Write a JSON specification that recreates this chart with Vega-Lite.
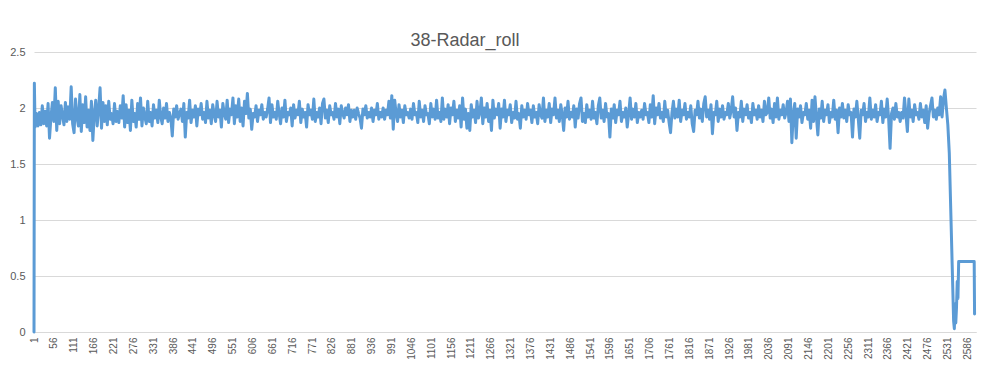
{
"$schema":"https://vega.github.io/schema/vega-lite/v6.json",
"autosize":{"type":"none"},
"padding":{"left":34,"top":52,"right":16,"bottom":45},
"width":942,"height":280,
"background":"#ffffff",
"title":{"text":"38-Radar_roll","font":"Liberation Sans","fontSize":18,"fontWeight":"normal","color":"#595959","anchor":"middle","frame":"group","dx":-40,"offset":-4},
"config":{"view":{"stroke":null}},
"data":{"values":[
{"i":1,"v":0},{"i":2,"v":2.22},
{"i":4,"v":1.83},{"i":8,"v":1.95},{"i":12,"v":1.84},{"i":16,"v":1.96},{"i":20,"v":1.85},{"i":24,"v":2.02},{"i":28,"v":1.86},{"i":32,"v":1.97},{"i":36,"v":1.84},{"i":40,"v":2.04},{"i":44,"v":1.73},{"i":48,"v":1.92},{"i":52,"v":2.05},{"i":56,"v":1.88},{"i":60,"v":2.18},{"i":64,"v":1.80},{"i":68,"v":2.06},{"i":72,"v":1.86},{"i":76,"v":2.02},{"i":80,"v":1.93},
{"i":84,"v":1.85},{"i":88,"v":2.05},{"i":92,"v":1.88},{"i":96,"v":2.01},{"i":100,"v":1.90},{"i":104,"v":2.19},{"i":108,"v":1.86},{"i":112,"v":1.78},{"i":116,"v":2.08},{"i":120,"v":1.92},{"i":124,"v":1.84},{"i":128,"v":2.12},{"i":132,"v":1.79},{"i":136,"v":2.03},{"i":140,"v":1.87},{"i":144,"v":2.10},{"i":148,"v":1.83},{"i":152,"v":1.98},{"i":156,"v":1.80},{"i":160,"v":2.06},
{"i":164,"v":1.71},{"i":168,"v":1.95},{"i":172,"v":2.07},{"i":176,"v":1.84},{"i":180,"v":1.99},{"i":184,"v":2.18},{"i":188,"v":1.82},{"i":192,"v":2.05},{"i":196,"v":1.88},{"i":200,"v":2.02},{"i":204,"v":1.85},{"i":208,"v":2.06},{"i":212,"v":1.90},{"i":216,"v":1.95},{"i":220,"v":1.86},{"i":224,"v":2.04},{"i":228,"v":1.88},{"i":232,"v":1.97},{"i":236,"v":1.87},{"i":240,"v":2.02},
{"i":244,"v":1.91},{"i":248,"v":2.11},{"i":252,"v":1.83},{"i":256,"v":2.03},{"i":260,"v":1.87},{"i":264,"v":1.98},{"i":268,"v":1.80},{"i":272,"v":2.07},{"i":276,"v":1.88},{"i":280,"v":1.95},{"i":284,"v":1.83},{"i":288,"v":2.04},{"i":292,"v":1.90},{"i":296,"v":2.09},{"i":300,"v":1.84},{"i":304,"v":2.00},{"i":308,"v":1.92},{"i":312,"v":1.86},{"i":316,"v":2.06},{"i":320,"v":1.88},
{"i":324,"v":1.96},{"i":328,"v":1.84},{"i":332,"v":2.03},{"i":336,"v":1.91},{"i":340,"v":1.98},{"i":344,"v":1.87},{"i":348,"v":2.07},{"i":352,"v":1.92},{"i":356,"v":1.86},{"i":360,"v":2.00},{"i":364,"v":1.91},{"i":368,"v":2.04},{"i":372,"v":1.88},{"i":376,"v":1.96},{"i":380,"v":1.91},{"i":384,"v":1.75},{"i":388,"v":1.99},{"i":392,"v":1.92},{"i":396,"v":2.02},{"i":400,"v":1.90},
{"i":404,"v":1.95},{"i":408,"v":1.99},{"i":412,"v":1.88},{"i":416,"v":2.04},{"i":420,"v":1.74},{"i":424,"v":1.96},{"i":428,"v":1.91},{"i":432,"v":2.07},{"i":436,"v":1.87},{"i":440,"v":1.98},{"i":444,"v":1.92},{"i":448,"v":2.02},{"i":452,"v":1.84},{"i":456,"v":1.99},{"i":460,"v":1.94},{"i":464,"v":2.04},{"i":468,"v":1.90},{"i":472,"v":1.96},{"i":476,"v":1.87},{"i":480,"v":2.06},
{"i":484,"v":1.91},{"i":488,"v":1.98},{"i":492,"v":1.86},{"i":496,"v":2.03},{"i":500,"v":1.94},{"i":504,"v":1.88},{"i":508,"v":2.06},{"i":512,"v":1.92},{"i":516,"v":1.98},{"i":520,"v":1.83},{"i":524,"v":2.04},{"i":528,"v":1.95},{"i":532,"v":1.90},{"i":536,"v":2.07},{"i":540,"v":1.87},{"i":544,"v":1.99},{"i":548,"v":1.94},{"i":552,"v":2.09},{"i":556,"v":1.86},{"i":560,"v":2.02},
{"i":564,"v":1.92},{"i":568,"v":2.08},{"i":572,"v":1.88},{"i":576,"v":2.00},{"i":580,"v":1.84},{"i":584,"v":2.06},{"i":588,"v":1.95},{"i":592,"v":2.13},{"i":596,"v":1.91},{"i":600,"v":1.99},{"i":604,"v":1.81},{"i":608,"v":1.95},{"i":612,"v":1.92},{"i":616,"v":2.02},{"i":620,"v":1.88},{"i":624,"v":1.98},{"i":628,"v":1.94},{"i":632,"v":2.03},{"i":636,"v":1.90},{"i":640,"v":1.96},
{"i":644,"v":1.92},{"i":648,"v":1.99},{"i":652,"v":2.09},{"i":656,"v":1.87},{"i":660,"v":2.03},{"i":664,"v":1.92},{"i":668,"v":1.96},{"i":672,"v":1.90},{"i":676,"v":2.06},{"i":680,"v":1.95},{"i":684,"v":1.86},{"i":688,"v":2.00},{"i":692,"v":1.92},{"i":696,"v":2.07},{"i":700,"v":1.88},{"i":704,"v":1.96},{"i":708,"v":1.94},{"i":712,"v":2.00},{"i":716,"v":1.84},{"i":720,"v":2.03},
{"i":724,"v":1.91},{"i":728,"v":1.98},{"i":732,"v":1.94},{"i":736,"v":2.06},{"i":740,"v":1.87},{"i":744,"v":1.99},{"i":748,"v":1.92},{"i":752,"v":1.96},{"i":756,"v":1.83},{"i":760,"v":2.03},{"i":764,"v":1.94},{"i":768,"v":1.98},{"i":772,"v":1.90},{"i":776,"v":2.08},{"i":780,"v":1.88},{"i":784,"v":1.96},{"i":788,"v":1.92},{"i":792,"v":2.00},{"i":796,"v":1.86},{"i":800,"v":2.04},
{"i":804,"v":2.08},{"i":808,"v":1.91},{"i":812,"v":1.98},{"i":816,"v":1.87},{"i":820,"v":2.02},{"i":824,"v":1.94},{"i":828,"v":1.96},{"i":832,"v":1.90},{"i":836,"v":2.04},{"i":840,"v":1.92},{"i":844,"v":1.99},{"i":848,"v":1.86},{"i":852,"v":2.02},{"i":856,"v":1.95},{"i":860,"v":1.91},{"i":864,"v":2.00},{"i":868,"v":1.94},{"i":872,"v":2.03},{"i":876,"v":1.88},{"i":880,"v":1.98},
{"i":884,"v":1.92},{"i":888,"v":1.98},{"i":892,"v":1.90},{"i":896,"v":2.00},{"i":900,"v":1.95},{"i":904,"v":1.91},{"i":908,"v":1.82},{"i":912,"v":1.99},{"i":916,"v":1.94},{"i":920,"v":2.02},{"i":924,"v":1.91},{"i":928,"v":1.96},{"i":932,"v":1.92},{"i":936,"v":2.00},{"i":940,"v":1.88},{"i":944,"v":1.98},{"i":948,"v":1.94},{"i":952,"v":2.04},{"i":956,"v":1.90},{"i":960,"v":1.96},
{"i":964,"v":1.92},{"i":968,"v":2.00},{"i":972,"v":1.90},{"i":976,"v":1.98},{"i":980,"v":1.94},{"i":984,"v":2.06},{"i":988,"v":1.91},{"i":992,"v":2.11},{"i":996,"v":1.81},{"i":1000,"v":2.07},{"i":1004,"v":1.95},{"i":1008,"v":1.88},{"i":1012,"v":2.03},{"i":1016,"v":1.92},{"i":1020,"v":1.98},{"i":1024,"v":1.87},{"i":1028,"v":2.02},{"i":1032,"v":1.94},{"i":1036,"v":1.96},{"i":1040,"v":1.91},
{"i":1044,"v":1.99},{"i":1048,"v":1.90},{"i":1052,"v":2.04},{"i":1056,"v":1.94},{"i":1060,"v":1.96},{"i":1064,"v":1.87},{"i":1068,"v":2.06},{"i":1072,"v":1.92},{"i":1076,"v":1.98},{"i":1080,"v":1.88},{"i":1084,"v":2.02},{"i":1088,"v":1.94},{"i":1092,"v":1.95},{"i":1096,"v":1.86},{"i":1100,"v":2.04},{"i":1104,"v":1.92},{"i":1108,"v":1.99},{"i":1112,"v":1.90},{"i":1116,"v":2.07},{"i":1120,"v":1.91},
{"i":1124,"v":1.96},{"i":1128,"v":1.88},{"i":1132,"v":2.09},{"i":1136,"v":1.90},{"i":1140,"v":1.99},{"i":1144,"v":1.92},{"i":1148,"v":2.03},{"i":1152,"v":1.86},{"i":1156,"v":2.00},{"i":1160,"v":1.94},{"i":1164,"v":2.06},{"i":1168,"v":1.88},{"i":1172,"v":1.98},{"i":1176,"v":1.91},{"i":1180,"v":2.02},{"i":1184,"v":1.83},{"i":1188,"v":2.09},{"i":1192,"v":1.90},{"i":1196,"v":1.99},{"i":1200,"v":1.82},
{"i":1204,"v":1.95},{"i":1208,"v":1.80},{"i":1212,"v":2.03},{"i":1216,"v":1.92},{"i":1220,"v":1.98},{"i":1224,"v":1.87},{"i":1228,"v":2.06},{"i":1232,"v":1.91},{"i":1236,"v":1.96},{"i":1240,"v":2.09},{"i":1244,"v":1.86},{"i":1248,"v":2.00},{"i":1252,"v":1.92},{"i":1256,"v":2.04},{"i":1260,"v":1.88},{"i":1264,"v":1.98},{"i":1268,"v":1.80},{"i":1272,"v":2.07},{"i":1276,"v":1.91},{"i":1280,"v":1.99},
{"i":1284,"v":1.94},{"i":1288,"v":2.04},{"i":1292,"v":1.82},{"i":1296,"v":1.99},{"i":1300,"v":1.92},{"i":1304,"v":2.07},{"i":1308,"v":1.88},{"i":1312,"v":1.98},{"i":1316,"v":1.94},{"i":1320,"v":2.03},{"i":1324,"v":1.87},{"i":1328,"v":1.96},{"i":1332,"v":1.91},{"i":1336,"v":2.06},{"i":1340,"v":1.90},{"i":1344,"v":1.95},{"i":1348,"v":1.82},{"i":1352,"v":2.02},{"i":1356,"v":1.92},{"i":1360,"v":1.98},
{"i":1364,"v":1.90},{"i":1368,"v":2.04},{"i":1372,"v":1.94},{"i":1376,"v":1.98},{"i":1380,"v":1.87},{"i":1384,"v":2.02},{"i":1388,"v":1.92},{"i":1392,"v":1.96},{"i":1396,"v":1.86},{"i":1400,"v":2.03},{"i":1404,"v":1.94},{"i":1408,"v":1.91},{"i":1412,"v":2.09},{"i":1416,"v":1.88},{"i":1420,"v":1.98},{"i":1424,"v":1.92},{"i":1428,"v":2.04},{"i":1432,"v":1.87},{"i":1436,"v":1.99},{"i":1440,"v":1.94},
{"i":1444,"v":2.09},{"i":1448,"v":1.91},{"i":1452,"v":1.98},{"i":1456,"v":1.88},{"i":1460,"v":2.03},{"i":1464,"v":1.94},{"i":1468,"v":1.80},{"i":1472,"v":2.00},{"i":1476,"v":1.92},{"i":1480,"v":2.06},{"i":1484,"v":1.90},{"i":1488,"v":1.96},{"i":1492,"v":1.92},{"i":1496,"v":2.02},{"i":1500,"v":1.83},{"i":1504,"v":1.99},{"i":1508,"v":1.91},{"i":1512,"v":2.04},{"i":1516,"v":2.09},{"i":1520,"v":1.88},
{"i":1524,"v":1.95},{"i":1528,"v":1.87},{"i":1532,"v":2.03},{"i":1536,"v":1.92},{"i":1540,"v":1.98},{"i":1544,"v":1.90},{"i":1548,"v":2.06},{"i":1552,"v":1.91},{"i":1556,"v":1.96},{"i":1560,"v":1.86},{"i":1564,"v":2.02},{"i":1568,"v":2.09},{"i":1572,"v":1.91},{"i":1576,"v":1.98},{"i":1580,"v":1.88},{"i":1584,"v":2.04},{"i":1588,"v":1.92},{"i":1592,"v":1.95},{"i":1596,"v":1.74},{"i":1600,"v":1.99},
{"i":1604,"v":1.91},{"i":1608,"v":2.03},{"i":1612,"v":1.87},{"i":1616,"v":1.98},{"i":1620,"v":1.94},{"i":1624,"v":2.06},{"i":1628,"v":1.88},{"i":1632,"v":1.96},{"i":1636,"v":1.92},{"i":1640,"v":2.00},{"i":1644,"v":1.83},{"i":1648,"v":1.95},{"i":1652,"v":2.09},{"i":1656,"v":1.90},{"i":1660,"v":1.99},{"i":1664,"v":1.92},{"i":1668,"v":2.04},{"i":1672,"v":1.87},{"i":1676,"v":1.96},{"i":1680,"v":1.92},
{"i":1684,"v":1.98},{"i":1688,"v":1.90},{"i":1692,"v":2.04},{"i":1696,"v":1.94},{"i":1700,"v":1.96},{"i":1704,"v":1.87},{"i":1708,"v":2.03},{"i":1712,"v":1.92},{"i":1716,"v":2.11},{"i":1720,"v":1.86},{"i":1724,"v":2.00},{"i":1728,"v":1.94},{"i":1732,"v":2.04},{"i":1736,"v":1.91},{"i":1740,"v":1.96},{"i":1744,"v":1.88},{"i":1748,"v":2.06},{"i":1752,"v":1.92},{"i":1756,"v":1.98},{"i":1760,"v":1.87},
{"i":1764,"v":1.78},{"i":1768,"v":1.96},{"i":1772,"v":2.06},{"i":1776,"v":1.91},{"i":1780,"v":1.99},{"i":1784,"v":1.92},{"i":1788,"v":2.07},{"i":1792,"v":1.88},{"i":1796,"v":1.98},{"i":1800,"v":1.94},{"i":1804,"v":2.04},{"i":1808,"v":1.90},{"i":1812,"v":1.96},{"i":1816,"v":1.92},{"i":1820,"v":2.02},{"i":1824,"v":1.86},{"i":1828,"v":1.79},{"i":1832,"v":1.98},{"i":1836,"v":1.94},{"i":1840,"v":2.06},
{"i":1844,"v":1.91},{"i":1848,"v":1.99},{"i":1852,"v":1.88},{"i":1856,"v":2.04},{"i":1860,"v":2.10},{"i":1864,"v":1.92},{"i":1868,"v":1.98},{"i":1872,"v":1.90},{"i":1876,"v":2.03},{"i":1880,"v":1.77},{"i":1884,"v":1.96},{"i":1888,"v":1.94},{"i":1892,"v":2.06},{"i":1896,"v":1.88},{"i":1900,"v":1.99},{"i":1904,"v":1.92},{"i":1908,"v":2.02},{"i":1912,"v":1.90},{"i":1916,"v":1.96},{"i":1920,"v":1.94},
{"i":1924,"v":2.04},{"i":1928,"v":1.91},{"i":1932,"v":1.98},{"i":1936,"v":2.10},{"i":1940,"v":1.92},{"i":1944,"v":2.00},{"i":1948,"v":1.80},{"i":1952,"v":1.96},{"i":1956,"v":1.92},{"i":1960,"v":2.06},{"i":1964,"v":1.88},{"i":1968,"v":1.99},{"i":1972,"v":1.94},{"i":1976,"v":2.03},{"i":1980,"v":1.91},{"i":1984,"v":1.96},{"i":1988,"v":1.87},{"i":1992,"v":2.04},{"i":1996,"v":1.94},{"i":2000,"v":1.98},
{"i":2004,"v":1.90},{"i":2008,"v":2.02},{"i":2012,"v":1.92},{"i":2016,"v":1.98},{"i":2020,"v":1.88},{"i":2024,"v":2.06},{"i":2028,"v":1.94},{"i":2032,"v":1.96},{"i":2036,"v":2.09},{"i":2040,"v":1.91},{"i":2044,"v":1.99},{"i":2048,"v":1.87},{"i":2052,"v":2.04},{"i":2056,"v":1.92},{"i":2060,"v":2.09},{"i":2064,"v":1.90},{"i":2068,"v":1.98},{"i":2072,"v":1.94},{"i":2076,"v":2.03},{"i":2080,"v":1.91},
{"i":2084,"v":1.96},{"i":2088,"v":2.06},{"i":2092,"v":1.88},{"i":2096,"v":2.08},{"i":2100,"v":1.69},{"i":2104,"v":1.95},{"i":2108,"v":2.04},{"i":2112,"v":1.73},{"i":2116,"v":1.99},{"i":2120,"v":1.92},{"i":2124,"v":2.02},{"i":2128,"v":1.87},{"i":2132,"v":1.96},{"i":2136,"v":1.94},{"i":2140,"v":2.04},{"i":2144,"v":1.90},{"i":2148,"v":1.98},{"i":2152,"v":1.82},{"i":2156,"v":2.07},{"i":2160,"v":1.88},
{"i":2164,"v":2.10},{"i":2168,"v":1.92},{"i":2172,"v":1.76},{"i":2176,"v":1.99},{"i":2180,"v":1.91},{"i":2184,"v":2.06},{"i":2188,"v":1.88},{"i":2192,"v":1.98},{"i":2196,"v":1.94},{"i":2200,"v":2.03},{"i":2204,"v":1.87},{"i":2208,"v":1.96},{"i":2212,"v":1.92},{"i":2216,"v":2.07},{"i":2220,"v":1.90},{"i":2224,"v":1.98},{"i":2228,"v":1.78},{"i":2232,"v":2.00},{"i":2236,"v":1.92},{"i":2240,"v":2.04},
{"i":2244,"v":1.91},{"i":2248,"v":1.98},{"i":2252,"v":1.88},{"i":2256,"v":2.03},{"i":2260,"v":1.94},{"i":2264,"v":1.96},{"i":2268,"v":1.74},{"i":2272,"v":1.99},{"i":2276,"v":1.92},{"i":2280,"v":2.06},{"i":2284,"v":1.90},{"i":2288,"v":1.73},{"i":2292,"v":1.98},{"i":2296,"v":1.94},{"i":2300,"v":2.04},{"i":2304,"v":1.88},{"i":2308,"v":1.96},{"i":2312,"v":1.92},{"i":2316,"v":2.09},{"i":2320,"v":1.90},
{"i":2324,"v":1.98},{"i":2328,"v":1.92},{"i":2332,"v":2.03},{"i":2336,"v":1.88},{"i":2340,"v":1.96},{"i":2344,"v":1.94},{"i":2348,"v":2.06},{"i":2352,"v":1.87},{"i":2356,"v":1.99},{"i":2360,"v":1.92},{"i":2364,"v":2.08},{"i":2368,"v":1.91},{"i":2372,"v":1.64},{"i":2376,"v":1.95},{"i":2380,"v":2.00},{"i":2384,"v":1.90},{"i":2388,"v":2.04},{"i":2392,"v":1.92},{"i":2396,"v":1.96},{"i":2400,"v":1.88},
{"i":2404,"v":1.96},{"i":2408,"v":1.91},{"i":2412,"v":2.09},{"i":2416,"v":1.94},{"i":2420,"v":1.79},{"i":2424,"v":2.08},{"i":2428,"v":1.92},{"i":2432,"v":1.98},{"i":2436,"v":1.88},{"i":2440,"v":2.03},{"i":2444,"v":1.94},{"i":2448,"v":1.96},{"i":2452,"v":1.90},{"i":2456,"v":2.04},{"i":2460,"v":1.92},{"i":2464,"v":1.98},{"i":2468,"v":1.87},{"i":2472,"v":2.02},{"i":2476,"v":1.82},{"i":2480,"v":1.95},
{"i":2484,"v":2.02},{"i":2488,"v":2.09},{"i":2492,"v":1.92},{"i":2496,"v":1.98},{"i":2500,"v":1.90},{"i":2504,"v":2.00},{"i":2508,"v":1.94},{"i":2512,"v":2.10},{"i":2516,"v":1.92},{"i":2520,"v":2.08},{"i":2524,"v":2.16},{"i":2528,"v":2.00},{"i":2532,"v":1.85},{"i":2536,"v":1.60},{"i":2540,"v":1.10},{"i":2544,"v":0.60},{"i":2548,"v":0.10},{"i":2550,"v":0.03},{"i":2552,"v":0.25},{"i":2554,"v":0.08},{"i":2556,"v":0.22},{"i":2558,"v":0.45},{"i":2560,"v":0.30},{"i":2562,"v":0.63},{"i":2605,"v":0.63},{"i":2606,"v":0.16}
]},
"mark":{"type":"line","color":"#5b9bd5","strokeWidth":3,"strokeJoin":"round","strokeCap":"round"},
"encoding":{
"x":{"field":"i","type":"quantitative","scale":{"domain":[1,2610],"nice":false,"zero":false},
"axis":{"title":null,"values":[1,56,111,166,221,276,331,386,441,496,551,606,661,716,771,826,881,936,991,1046,1101,1156,1211,1266,1321,1376,1431,1486,1541,1596,1651,1706,1761,1816,1871,1926,1981,2036,2091,2146,2201,2256,2311,2366,2421,2476,2531,2586],
"format":"d","labelAngle":-90,"labelAlign":"right","labelBaseline":"middle","labelFont":"Liberation Sans","labelFontSize":10,"labelColor":"#595959","labelPadding":5,"labelOverlap":false,"labelBound":false,"labelFlush":false,"ticks":false,"grid":false,"domainColor":"#d9d9d9","domainWidth":1}},
"y":{"field":"v","type":"quantitative","scale":{"domain":[0,2.5],"nice":false},
"axis":{"title":null,"values":[0,0.5,1,1.5,2,2.5],"format":".1~f","labelFont":"Liberation Sans","labelFontSize":11,"labelColor":"#595959","labelPadding":9,"ticks":false,"domain":false,"grid":true,"gridColor":"#d9d9d9","gridWidth":1}}
}
}
